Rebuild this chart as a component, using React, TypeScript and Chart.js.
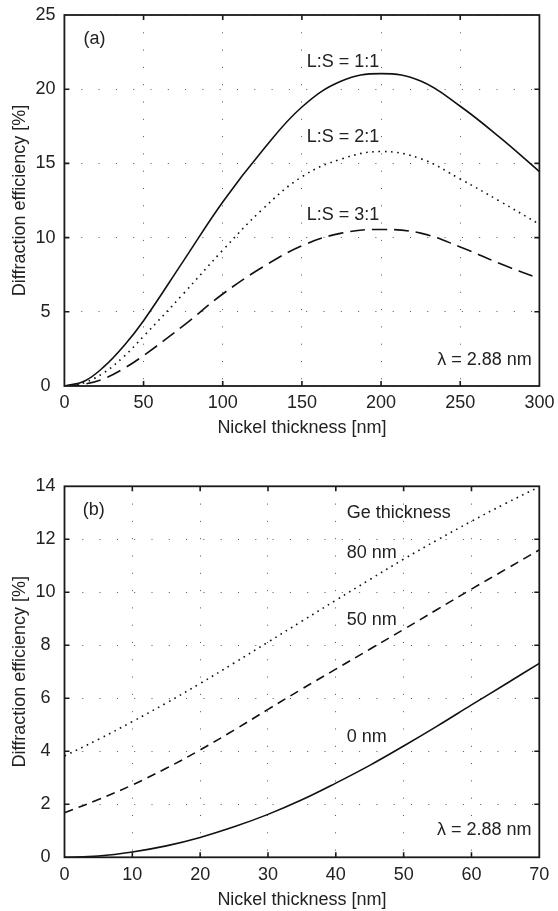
import React, { useEffect, useRef } from "react";
import { Chart, registerables } from "chart.js";

Chart.register(...registerables);

const FONT = "'Liberation Sans', Arial, Helvetica, sans-serif";

// ---------- Panel (a) ----------
const topThickness = [0, 12.5, 25, 37.5, 50, 75, 100, 125, 150, 175, 200, 225, 250, 275, 300];
const topLS11 = [0, 0.32, 1.3, 2.7, 4.4, 8.4, 12.4, 15.85, 18.8, 20.55, 21.05, 20.55, 18.85, 16.75, 14.45];
const topLS21 = [0, 0.22, 0.9, 1.98, 3.35, 6.2, 9.15, 11.9, 14.1, 15.3, 15.8, 15.32, 13.95, 12.45, 10.9];
const topLS31 = [0, 0.12, 0.5, 1.18, 2.05, 4.05, 6.2, 8.0, 9.45, 10.3, 10.55, 10.3, 9.37, 8.25, 7.24];
const topXRange = [0, 300, 50];
const topYRange = [0, 25, 5];
const topTexts = ["(a)", "L:S = 1:1", "L:S = 2:1", "L:S = 3:1", "\u03bb = 2.88 nm"];
const topTextX = [12, 153, 153, 153, 235.5];
const topTextY = [23.4, 21.8, 16.75, 11.5, 1.75];

// ---------- Panel (b) ----------
const botThickness = [0, 5, 10, 15, 20, 25, 30, 35, 40, 45, 50, 55, 60, 65, 70];
const botGe0 = [0, 0.05, 0.2, 0.43, 0.75, 1.15, 1.62, 2.17, 2.8, 3.47, 4.2, 4.96, 5.75, 6.53, 7.32];
const botGe50 = [1.68, 2.18, 2.73, 3.36, 4.05, 4.8, 5.58, 6.35, 7.1, 7.85, 8.6, 9.36, 10.12, 10.86, 11.6];
const botGe80 = [3.82, 4.45, 5.12, 5.82, 6.56, 7.33, 8.12, 8.91, 9.7, 10.48, 11.25, 11.98, 12.68, 13.35, 13.98];
const botXRange = [0, 70, 10];
const botYRange = [0, 14, 2];
const botTexts = ["(b)", "Ge thickness", "80 nm", "50 nm", "0 nm", "\u03bb = 2.88 nm"];
const botTextX = [2.7, 41.6, 41.6, 41.6, 41.6, 54.9];
const botTextY = [13.1, 13.0, 11.5, 8.96, 4.54, 1.03];

const xTitle = "Nickel thickness [nm]";
const yTitle = "Diffraction efficiency [%]";

const overlayPlugin = {
  id: "overlay",
  afterDatasetsDraw(chart: any, _args: any, opts: any) {
    const { ctx, chartArea: a, scales } = chart;
    const xs = scales.x;
    const ys = scales.y;
    ctx.save();
    ctx.setLineDash([]);
    ctx.strokeStyle = "#1a1a1a";
    ctx.lineWidth = 1.6;
    const L = 5;
    ctx.beginPath();
    xs.ticks.forEach((t: any) => {
      const p = xs.getPixelForValue(t.value);
      if (p <= a.left + 1 || p >= a.right - 1) return;
      ctx.moveTo(p, a.bottom);
      ctx.lineTo(p, a.bottom - L);
      ctx.moveTo(p, a.top);
      ctx.lineTo(p, a.top + L);
    });
    ys.ticks.forEach((t: any) => {
      const p = ys.getPixelForValue(t.value);
      if (p >= a.bottom - 1 || p <= a.top + 1) return;
      ctx.moveTo(a.left, p);
      ctx.lineTo(a.left + L, p);
      ctx.moveTo(a.right, p);
      ctx.lineTo(a.right - L, p);
    });
    ctx.stroke();
    ctx.lineWidth = 1.8;
    ctx.strokeRect(a.left, a.top, a.right - a.left, a.bottom - a.top);
    ctx.fillStyle = "#222";
    ctx.font = `18px ${FONT}`;
    ctx.textBaseline = "middle";
    ctx.textAlign = "left";
    const texts: string[] = opts.texts || [];
    texts.forEach((s, i) => {
      ctx.fillText(s, xs.getPixelForValue(opts.tx[i]), ys.getPixelForValue(opts.ty[i]));
    });
    ctx.restore();
  },
};

function pts(xs: number[], ys: number[]) {
  return xs.map((x, i) => ({ x, y: ys[i] }));
}

type PanelProps = {
  width: number;
  height: number;
  datasets: any[];
  xr: number[];
  yr: number[];
  pad: { top: number; right: number };
  yAxisW: number;
  xAxisH: number;
  xTitlePadBottom: number;
  texts: string[];
  tx: number[];
  ty: number[];
};

function Panel(p: PanelProps) {
  const ref = useRef<HTMLCanvasElement | null>(null);
  useEffect(() => {
    if (!ref.current) return;
    const tickFont = { family: FONT, size: 18 };
    const gridCommon = {
      color: "#555",
      lineWidth: 1,
      drawTicks: false,
    };
    const chart = new Chart(ref.current, {
      type: "line",
      data: { datasets: p.datasets },
      plugins: [overlayPlugin],
      options: {
        animation: false,
        responsive: false,
        devicePixelRatio: 1,
        layout: { padding: { left: 0, top: p.pad.top, right: p.pad.right, bottom: 0 } },
        plugins: {
          legend: { display: false },
          tooltip: { enabled: false },
          overlay: { texts: p.texts, tx: p.tx, ty: p.ty },
        } as any,
        elements: { point: { radius: 0 } },
        scales: {
          x: {
            type: "linear",
            min: p.xr[0],
            max: p.xr[1],
            grid: gridCommon,
            border: { display: false, dash: [1, 16.3] },
            ticks: { stepSize: p.xr[2], color: "#222", font: tickFont, padding: 6.7, maxRotation: 0 },
            title: {
              display: true,
              text: xTitle,
              color: "#222",
              font: { family: FONT, size: 18 },
              padding: { top: 0, bottom: p.xTitlePadBottom },
            },
            afterFit: (s: any) => {
              s.height = p.xAxisH;
              s.paddingLeft = 0;
              s.paddingRight = 0;
            },
          },
          y: {
            type: "linear",
            min: p.yr[0],
            max: p.yr[1],
            grid: gridCommon,
            border: { display: false, dash: [1, 16.3] },
            ticks: { stepSize: p.yr[2], color: "#222", font: tickFont, padding: 8.9, crossAlign: "center" },
            title: {
              display: true,
              text: yTitle,
              color: "#222",
              font: { family: FONT, size: 18 },
              padding: { top: 9.7, bottom: 0 },
            },
            afterFit: (s: any) => {
              s.width = p.yAxisW;
              s.paddingTop = 0;
              s.paddingBottom = 0;
            },
          },
        },
      } as any,
    });
    return () => chart.destroy();
  }, []);
  return <canvas ref={ref} width={p.width} height={p.height} style={{ display: "block" }} />;
}

function line(data: any[], dash: number[], width = 1.6) {
  return {
    data,
    borderColor: "#111",
    borderWidth: width,
    borderDash: dash,
    fill: false,
    pointRadius: 0,
    tension: 0.4,
  };
}

export default function App() {
  const topSets = [
    line(pts(topThickness, topLS11), []),
    line(pts(topThickness, topLS21), [1.6, 4.6], 1.6),
    line(pts(topThickness, topLS31), [15, 7]),
  ];
  const botSets = [
    line(pts(botThickness, botGe80), [1.6, 4.6], 1.6),
    line(pts(botThickness, botGe50), [9, 6]),
    line(pts(botThickness, botGe0), []),
  ];
  return (
    <div style={{ position: "absolute", left: 0, top: 0, width: 558, height: 911, background: "#fff" }}>
      <Panel
        width={558}
        height={455}
        datasets={topSets}
        xr={topXRange}
        yr={topYRange}
        pad={{ top: 15, right: 18.6 }}
        yAxisW={64.4}
        xAxisH={69}
        xTitlePadBottom={15.8}
        texts={topTexts}
        tx={topTextX}
        ty={topTextY}
      />
      <Panel
        width={558}
        height={456}
        datasets={botSets}
        xr={botXRange}
        yr={botYRange}
        pad={{ top: 31.3, right: 18.7 }}
        yAxisW={64.5}
        xAxisH={53.7}
        xTitlePadBottom={0}
        texts={botTexts}
        tx={botTextX}
        ty={botTextY}
      />
    </div>
  );
}
